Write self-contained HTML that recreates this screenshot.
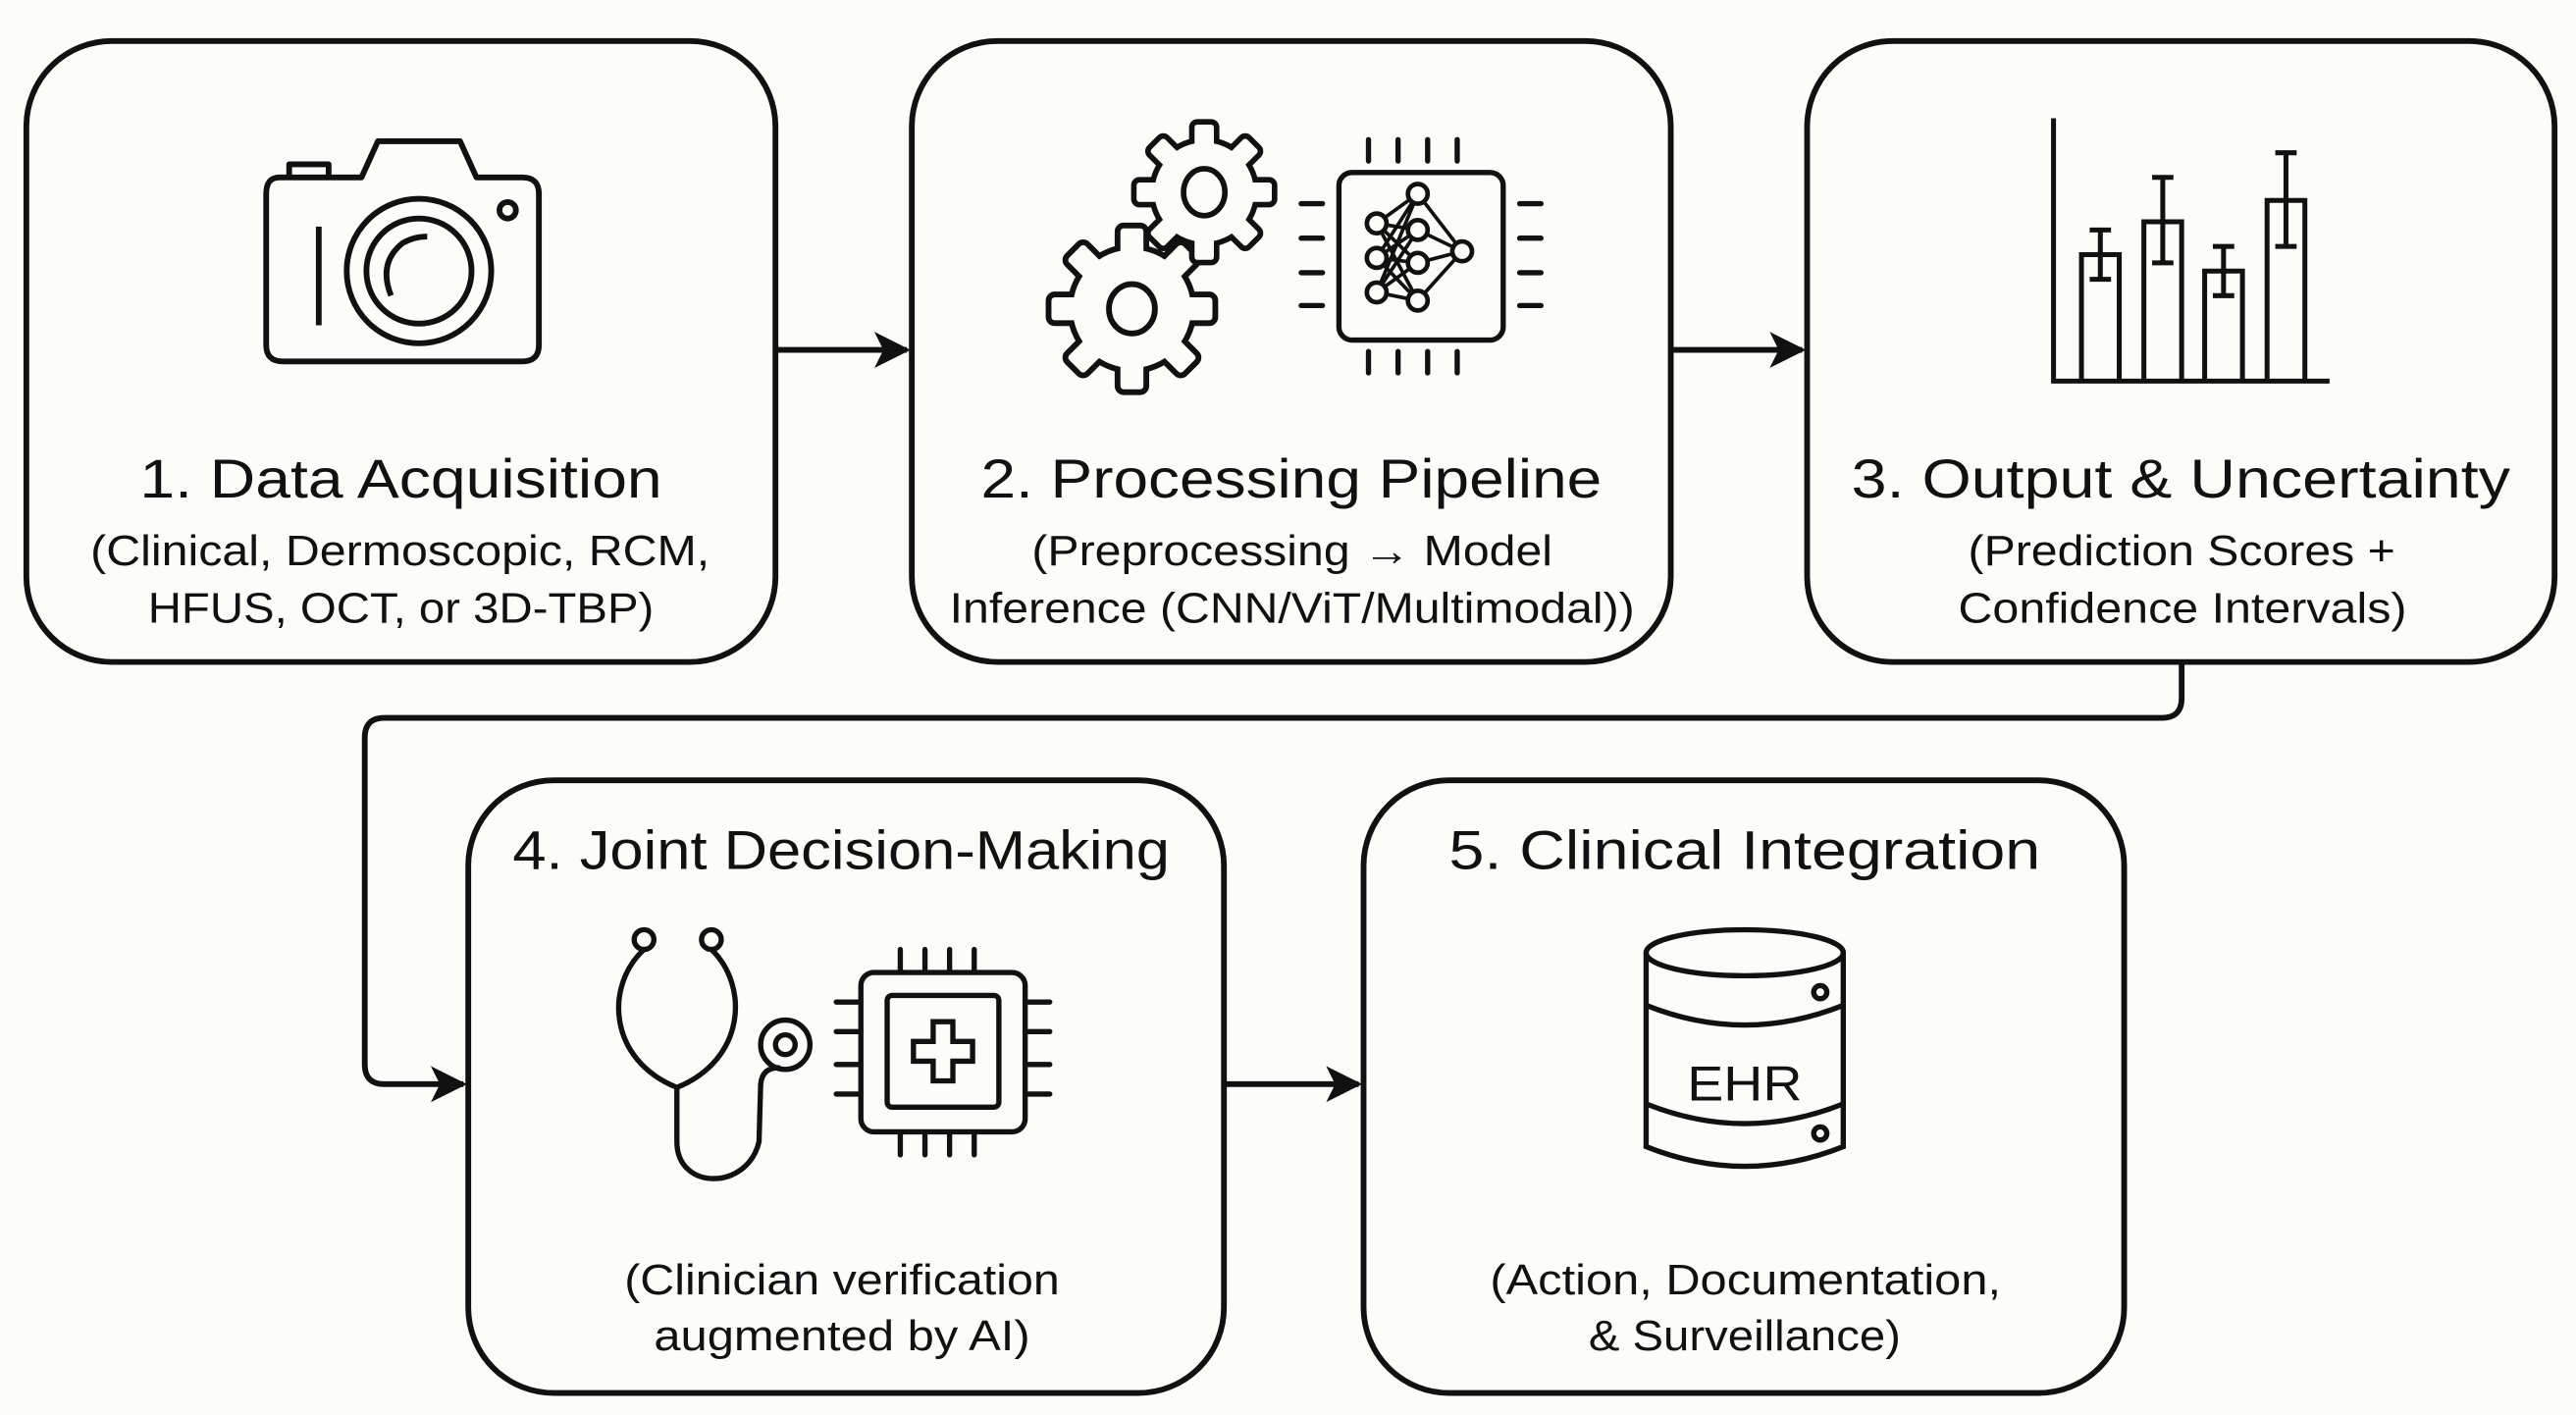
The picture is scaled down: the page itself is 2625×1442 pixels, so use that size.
<!DOCTYPE html>
<html><head><meta charset="utf-8"><style>
html,body{margin:0;padding:0;background:#fcfcfa;}
svg{display:block;}
text{font-family:"Liberation Sans",Arial,sans-serif;fill:#111;}
</style></head><body>
<svg width="2625" height="1442" viewBox="0 0 1568 861.4" xmlns="http://www.w3.org/2000/svg">
<defs>
<marker id="ah" markerWidth="10" markerHeight="10" refX="8" refY="5" orient="auto" markerUnits="userSpaceOnUse">
<path d="M0,0 L10,5 L0,10 L3,5 Z" fill="#111"/></marker>
<marker id="ah2" viewBox="0 0 10 10" markerWidth="22" markerHeight="22" refX="9" refY="5" orient="auto" markerUnits="userSpaceOnUse">
<path d="M0,0 L10,5 L0,10 L2.5,5 Z" fill="#111"/></marker>
<rect id="tb" x="-7" y="-9" width="14" height="18" rx="2"/>
</defs>
<g fill="none" stroke="#111" stroke-width="3.5">
<rect x="16" y="25" width="456" height="378" rx="52"/>
<rect x="555" y="25" width="462" height="378" rx="52"/>
<rect x="1100" y="25" width="455" height="378" rx="52"/>
<rect x="285" y="475" width="460" height="373" rx="52"/>
<rect x="830" y="475" width="463" height="373" rx="52"/>
<line x1="472" y1="213" x2="552" y2="213" marker-end="url(#ah2)"/>
<line x1="1017" y1="213" x2="1097" y2="213" marker-end="url(#ah2)"/>
<line x1="745" y1="660" x2="827" y2="660" marker-end="url(#ah2)"/>
<path d="M1328,403 L1328,425 Q1328,437 1316,437 L234,437 Q222,437 222,449 L222,648 Q222,660 234,660 L282,660" marker-end="url(#ah2)"/>
</g>
<!-- camera -->
<g fill="none" stroke="#111" stroke-width="3.5" stroke-linejoin="round">
<path d="M170,108 L220,108 L230,86 L280,86 L290,108 L318,108 Q328,108 328,118 L328,210 Q328,220 318,220 L172,220 Q162,220 162,210 L162,118 Q162,108 170,108 Z"/>
<path d="M176,108 L176,100 L200,100 L200,108"/>
<circle cx="255" cy="165" r="44"/>
<circle cx="255" cy="165" r="32"/>
<path d="M238,180 Q230,160 245,148 Q252,144 260,144"/>
<circle cx="309" cy="128" r="5"/>
<line x1="194" y1="138" x2="194" y2="198"/>
</g>
<!-- gears -->
<g>
<g transform="translate(689,188)">
<g stroke="#111" stroke-width="7" fill="#111">
<circle r="36"/>
<g transform="translate(0,-40)"><use href="#tb"/></g>
<use href="#tb" transform="rotate(45) translate(0,-40)"/><use href="#tb" transform="rotate(90) translate(0,-40)"/><use href="#tb" transform="rotate(135) translate(0,-40)"/><use href="#tb" transform="rotate(180) translate(0,-40)"/><use href="#tb" transform="rotate(225) translate(0,-40)"/><use href="#tb" transform="rotate(270) translate(0,-40)"/><use href="#tb" transform="rotate(315) translate(0,-40)"/>
</g>
<g fill="#fcfcfa">
<circle r="36"/>
<use href="#tb" transform="translate(0,-40)"/><use href="#tb" transform="rotate(45) translate(0,-40)"/><use href="#tb" transform="rotate(90) translate(0,-40)"/><use href="#tb" transform="rotate(135) translate(0,-40)"/><use href="#tb" transform="rotate(180) translate(0,-40)"/><use href="#tb" transform="rotate(225) translate(0,-40)"/><use href="#tb" transform="rotate(270) translate(0,-40)"/><use href="#tb" transform="rotate(315) translate(0,-40)"/>
</g>
<ellipse rx="14" ry="15" fill="none" stroke="#111" stroke-width="3.5"/>
</g>
<g transform="translate(733,117) scale(0.84)">
<g stroke="#111" stroke-width="8" fill="#111">
<circle r="36"/>
<use href="#tb" transform="translate(0,-40)"/><use href="#tb" transform="rotate(45) translate(0,-40)"/><use href="#tb" transform="rotate(90) translate(0,-40)"/><use href="#tb" transform="rotate(135) translate(0,-40)"/><use href="#tb" transform="rotate(180) translate(0,-40)"/><use href="#tb" transform="rotate(225) translate(0,-40)"/><use href="#tb" transform="rotate(270) translate(0,-40)"/><use href="#tb" transform="rotate(315) translate(0,-40)"/>
</g>
<g fill="#fcfcfa">
<circle r="36"/>
<use href="#tb" transform="translate(0,-40)"/><use href="#tb" transform="rotate(45) translate(0,-40)"/><use href="#tb" transform="rotate(90) translate(0,-40)"/><use href="#tb" transform="rotate(135) translate(0,-40)"/><use href="#tb" transform="rotate(180) translate(0,-40)"/><use href="#tb" transform="rotate(225) translate(0,-40)"/><use href="#tb" transform="rotate(270) translate(0,-40)"/><use href="#tb" transform="rotate(315) translate(0,-40)"/>
</g>
<ellipse rx="15" ry="17" fill="none" stroke="#111" stroke-width="4"/>
</g>
</g>
<!-- NN chip -->
<g fill="none" stroke="#111" stroke-width="3.2" stroke-linecap="round">
<rect x="815" y="105" width="100" height="102" rx="8"/>
<path d="M833,85v13 M851,85v13 M869,85v13 M887,85v13 M833,214v13 M851,214v13 M869,214v13 M887,214v13 M792,124h13 M792,145h13 M792,166h13 M792,186h13 M925,124h13 M925,145h13 M925,166h13 M925,186h13"/>
<g stroke-width="2.2">
<path d="M838,136 L863,118 M838,136 L863,140 M838,136 L863,160 M838,136 L863,183 M838,157 L863,118 M838,157 L863,140 M838,157 L863,160 M838,157 L863,183 M838,178 L863,118 M838,178 L863,140 M838,178 L863,160 M838,178 L863,183 M863,118 L890,153 M863,140 L890,153 M863,160 L890,153 M863,183 L890,153"/>
</g>
<g fill="#fcfcfa" stroke-width="2.8">
<circle cx="838" cy="136" r="6"/><circle cx="838" cy="157" r="6"/><circle cx="838" cy="178" r="6"/>
<circle cx="863" cy="118" r="6"/><circle cx="863" cy="140" r="6"/><circle cx="863" cy="160" r="6"/><circle cx="863" cy="183" r="6"/>
<circle cx="890" cy="153" r="6"/>
</g>
</g>
<!-- chart -->
<g fill="none" stroke="#111" stroke-width="3">
<path d="M1250,72 L1250,232 L1418,232"/>
<path d="M1267,232 V155 H1290 V232 M1305,232 V135 H1328 V232 M1342,232 V165 H1365 V232 M1380,232 V122 H1403 V232"/>
<path d="M1278.5,140 V170 M1272,140 H1285 M1272,170 H1285 M1316.5,108 V160 M1310,108 H1323 M1310,160 H1323 M1353.5,150 V180 M1347,150 H1360 M1347,180 H1360 M1391.5,93 V150 M1385,93 H1398 M1385,150 H1398"/>
</g>
<!-- stethoscope -->
<g fill="none" stroke="#111" stroke-width="3.2" stroke-linecap="round">
<circle cx="392" cy="572" r="6"/><circle cx="433" cy="572" r="6"/>
<path d="M392,578 C368,600 370,645 412,662 C454,645 456,600 433,578"/>
<path d="M412,662 L412,695 C412,725 455,725 462,695 L463,660 Q464,650 474,650"/>
<circle cx="478" cy="636" r="15"/><circle cx="478" cy="636" r="6"/>
</g>
<!-- medical chip -->
<g fill="none" stroke="#111" stroke-width="3.2" stroke-linecap="round">
<rect x="524" y="592" width="100" height="97" rx="8"/>
<rect x="540" y="606" width="68" height="68" rx="3"/>
<path d="M568,622 h12 v12 h12 v12 h-12 v12 h-12 v-12 h-12 v-12 h12 z"/>
<path d="M548,578v12 M563,578v12 M578,578v12 M593,578v12 M548,691v12 M563,691v12 M578,691v12 M593,691v12 M509,610h13 M509,628h13 M509,648h13 M509,666h13 M626,610h13 M626,628h13 M626,648h13 M626,666h13"/>
</g>
<!-- database -->
<g fill="none" stroke="#111" stroke-width="3.2">
<path d="M1002,580 L1002,698 Q1062,722 1122,698 L1122,580"/>
<ellipse cx="1062" cy="580" rx="60" ry="14"/>
<path d="M1002,612 Q1062,636 1122,612 M1002,672 Q1062,696 1122,672"/>
<circle cx="1108" cy="604" r="4"/><circle cx="1108" cy="690" r="4"/>
</g>
<text x="1062" y="670" font-size="30" text-anchor="middle" textLength="70" lengthAdjust="spacingAndGlyphs">EHR</text>
<!-- texts -->
<g text-anchor="start" lengthAdjust="spacingAndGlyphs">
<text x="85" y="303" font-size="33" textLength="318" lengthAdjust="spacingAndGlyphs">1. Data Acquisition</text>
<text x="55" y="344" font-size="26" textLength="377" lengthAdjust="spacingAndGlyphs">(Clinical, Dermoscopic, RCM,</text>
<text x="90" y="379" font-size="26" textLength="308" lengthAdjust="spacingAndGlyphs">HFUS, OCT, or 3D-TBP)</text>
<text x="597" y="303" font-size="33" textLength="378" lengthAdjust="spacingAndGlyphs">2. Processing Pipeline</text>
<text x="628" y="344" font-size="26" textLength="317" lengthAdjust="spacingAndGlyphs">(Preprocessing → Model</text>
<text x="578" y="379" font-size="26" textLength="417" lengthAdjust="spacingAndGlyphs">Inference (CNN/ViT/Multimodal))</text>
<text x="1127" y="303" font-size="33" textLength="401" lengthAdjust="spacingAndGlyphs">3. Output &amp; Uncertainty</text>
<text x="1198" y="344" font-size="26" textLength="260" lengthAdjust="spacingAndGlyphs">(Prediction Scores +</text>
<text x="1192" y="379" font-size="26" textLength="273" lengthAdjust="spacingAndGlyphs">Confidence Intervals)</text>
<text x="312" y="529" font-size="33" textLength="400" lengthAdjust="spacingAndGlyphs">4. Joint Decision-Making</text>
<text x="380" y="788" font-size="26" textLength="265" lengthAdjust="spacingAndGlyphs">(Clinician verification</text>
<text x="398" y="822" font-size="26" textLength="229" lengthAdjust="spacingAndGlyphs">augmented by AI)</text>
<text x="882" y="529" font-size="33" textLength="360" lengthAdjust="spacingAndGlyphs">5. Clinical Integration</text>
<text x="907" y="788" font-size="26" textLength="311" lengthAdjust="spacingAndGlyphs">(Action, Documentation,</text>
<text x="967" y="822" font-size="26" textLength="190" lengthAdjust="spacingAndGlyphs">&amp; Surveillance)</text>
</g>
</svg>
</body></html>
